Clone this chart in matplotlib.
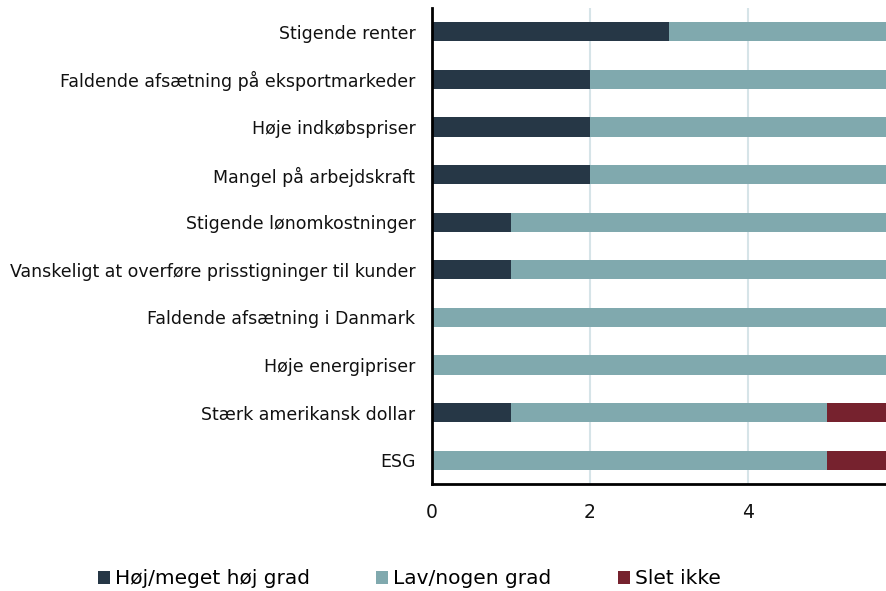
import matplotlib
matplotlib.use('agg')
import matplotlib.pyplot as plt
import numpy as np

categories = ["Stigende renter",
              "Faldende afsætning på eksportmarkeder",
              "Høje indkøbspriser",
              "Mangel på arbejdskraft",
              "Stigende lønomkostninger",
              "Vanskeligt at overføre prisstigninger til kunder",
              "Faldende afsætning i Danmark",
              "Høje energipriser",
              "Stærk amerikansk dollar",
              "ESG"]
hoej = [3, 2, 2, 2, 1, 1, 0, 0, 1, 0]
lav = [4, 5, 5, 5, 6, 6, 7, 7, 4, 5]
slet = [0, 0, 0, 0, 0, 0, 0, 0, 2, 2]
series = ["Høj/meget høj grad", "Lav/nogen grad", "Slet ikke"]
colors = ["#263746", "#80A9AE", "#76222E"]

plt.rcParams['font.family'] = ['DejaVu Sans']

fig = plt.figure(figsize=(8.86, 5.91), dpi=100)
ax = fig.add_axes([0.4876, 0.181, 0.5124, 0.8055])

y = np.arange(len(categories))
left = np.zeros(len(categories))
for vals, name, c in zip([hoej, lav, slet], series, colors):
    ax.barh(y, vals, left=left, height=0.4, color=c, label=name, zorder=3)
    left += np.array(vals)

ax.set_xlim(0, 5.75)
ax.set_ylim(9.5, -0.5)
ax.set_yticks(y)
ax.set_yticklabels(categories, fontsize=12.5, color="#111111")
ax.set_xticks([0, 2, 4])
ax.set_xticklabels(["0", "2", "4"], fontsize=13.5, color="#111111")
ax.tick_params(length=0)
ax.tick_params(axis='x', pad=14)
ax.tick_params(axis='y', pad=12)
ax.xaxis.grid(True, color="#D6E4E8", linewidth=1.5, zorder=0)
for s in ["top", "right"]:
    ax.spines[s].set_visible(False)
for s in ["left", "bottom"]:
    ax.spines[s].set_linewidth(2)
    ax.spines[s].set_color("black")
    ax.spines[s].set_zorder(4)

fig.legend(loc="lower center", bbox_to_anchor=(0.462, -0.026), ncol=3, frameon=False,
           fontsize=14.5, handlelength=0.6, handleheight=0.6, handletextpad=0.25,
           columnspacing=3.3)

plt.savefig("out.png", dpi=100)
